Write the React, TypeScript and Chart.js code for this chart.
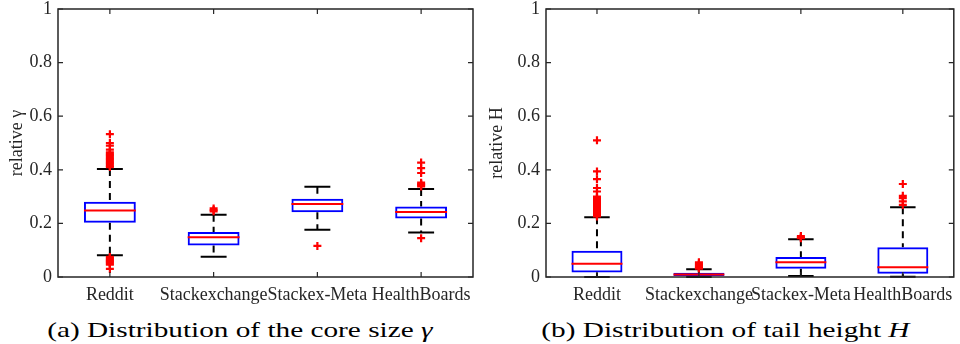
import React, { useEffect, useRef } from "react";
import { Chart, registerables } from "chart.js";

Chart.register(...registerables);

const categories = ["Reddit", "Stackexchange", "Stackex-Meta", "HealthBoards"];
const yTickLabels = ["0", "0.2", "0.4", "0.6", "0.8", "1"];

// (a) core size gamma
const coreLowerWhisker = [0.081, 0.076, 0.176, 0.166];
const coreQ1 = [0.202, 0.118, 0.242, 0.218];
const coreMedian = [0.248, 0.148, 0.272, 0.243];
const coreQ3 = [0.281, 0.168, 0.292, 0.263];
const coreUpperWhisker = [0.403, 0.232, 0.337, 0.328];
const coreOutliersReddit = [0.533, 0.5, 0.49, 0.475, 0.465, 0.46, 0.455, 0.45, 0.445, 0.44, 0.435, 0.43, 0.425, 0.42, 0.415, 0.41, 0.075, 0.07, 0.066, 0.062, 0.058, 0.055, 0.05, 0.046, 0.03];
const coreOutliersStackexchange = [0.245, 0.25, 0.256];
const coreOutliersMeta = [0.116];
const coreOutliersHealth = [0.427, 0.406, 0.388, 0.352, 0.347, 0.343, 0.338, 0.145];

// (b) tail height H
const tailLowerWhisker = [0.0, 0.0, 0.004, 0.001];
const tailQ1 = [0.017, 0.004, 0.031, 0.012];
const tailMedian = [0.049, 0.009, 0.055, 0.036];
const tailQ3 = [0.098, 0.016, 0.075, 0.111];
const tailUpperWhisker = [0.223, 0.029, 0.141, 0.26];
const tailOutliersReddit = [0.51, 0.394, 0.365, 0.332, 0.319, 0.3, 0.295, 0.29, 0.285, 0.28, 0.275, 0.27, 0.265, 0.26, 0.255, 0.25, 0.245, 0.24, 0.235, 0.23, 0.226];
const tailOutliersStackexchange = [0.055, 0.05, 0.046, 0.042, 0.038, 0.034, 0.031];
const tailOutliersMeta = [0.153, 0.148, 0.145];
const tailOutliersHealth = [0.347, 0.303, 0.294, 0.282, 0.269];

const FONT = "'Liberation Serif', 'Times New Roman', serif";
const AXIS_COLOR = "#262626";

type Stats = {
  lower: number[];
  q1: number[];
  median: number[];
  q3: number[];
  upper: number[];
  outliers: number[][];
};

const boxPlugin = {
  id: "boxExtras",
  beforeDatasetsDraw(chart: any, _args: any, opts: any) {
    const st: Stats = opts.stats;
    if (!st) return;
    const { ctx } = chart;
    const x = chart.scales.x;
    const y = chart.scales.y;
    const meta = chart.getDatasetMeta(0);
    ctx.save();
    ctx.strokeStyle = "#000";
    ctx.lineWidth = 2;
    for (let i = 0; i < categories.length; i++) {
      const cx = x.getPixelForValue(i);
      const half = meta.data[i].width / 2;
      const capHalf = half / 2;
      ctx.setLineDash([7, 5]);
      ctx.beginPath();
      ctx.moveTo(cx, y.getPixelForValue(st.upper[i]));
      ctx.lineTo(cx, y.getPixelForValue(st.q3[i]));
      ctx.moveTo(cx, y.getPixelForValue(st.q1[i]));
      ctx.lineTo(cx, y.getPixelForValue(st.lower[i]));
      ctx.stroke();
      ctx.setLineDash([]);
      ctx.beginPath();
      const yu = y.getPixelForValue(st.upper[i]);
      const yl = y.getPixelForValue(st.lower[i]);
      ctx.moveTo(cx - capHalf, yu);
      ctx.lineTo(cx + capHalf, yu);
      ctx.moveTo(cx - capHalf, yl);
      ctx.lineTo(cx + capHalf, yl);
      ctx.stroke();
    }
    ctx.restore();
  },
  afterDatasetsDraw(chart: any, _args: any, opts: any) {
    const st: Stats = opts.stats;
    if (!st) return;
    const { ctx, chartArea } = chart;
    const x = chart.scales.x;
    const y = chart.scales.y;
    const meta = chart.getDatasetMeta(0);
    ctx.save();
    // medians
    ctx.strokeStyle = "#ff0000";
    ctx.lineWidth = 2;
    for (let i = 0; i < categories.length; i++) {
      const cx = x.getPixelForValue(i);
      const half = meta.data[i].width / 2;
      const ym = y.getPixelForValue(st.median[i]);
      ctx.beginPath();
      ctx.moveTo(cx - half, ym);
      ctx.lineTo(cx + half, ym);
      ctx.stroke();
    }
    // frame
    ctx.strokeStyle = AXIS_COLOR;
    ctx.lineWidth = 1.5;
    const { left, right, top, bottom } = chartArea;
    ctx.strokeRect(left, top, right - left, bottom - top);
    // inward ticks
    const tl = 5;
    ctx.lineWidth = 1.2;
    ctx.beginPath();
    y.ticks.forEach((t: any) => {
      const py = y.getPixelForValue(t.value);
      ctx.moveTo(left, py);
      ctx.lineTo(left + tl, py);
      ctx.moveTo(right, py);
      ctx.lineTo(right - tl, py);
    });
    for (let i = 0; i < categories.length; i++) {
      const px = x.getPixelForValue(i);
      ctx.moveTo(px, bottom);
      ctx.lineTo(px, bottom - tl);
      ctx.moveTo(px, top);
      ctx.lineTo(px, top + tl);
    }
    ctx.stroke();
    ctx.restore();
  },
};

type PanelProps = {
  left: number;
  yTitle: string;
  axisWidth: number;
  padRight: number;
  stats: Stats;
};

function BoxPanel({ left, yTitle, axisWidth, padRight, stats }: PanelProps) {
  const ref = useRef<HTMLCanvasElement | null>(null);
  useEffect(() => {
    if (!ref.current) return;
    const outlierPoints: { x: string; y: number }[] = [];
    stats.outliers.forEach((arr, i) => arr.forEach((v) => outlierPoints.push({ x: categories[i], y: v })));
    const chart = new Chart(ref.current, {
      type: "bar",
      data: {
        labels: categories,
        datasets: [
          {
            type: "bar",
            data: categories.map((_, i) => [stats.q1[i], stats.q3[i]]) as any,
            backgroundColor: "rgba(0,0,0,0)",
            borderColor: "#0000ff",
            borderWidth: 2,
            borderSkipped: false,
            barPercentage: 0.5,
            categoryPercentage: 1,
            order: 2,
          } as any,
          {
            type: "line",
            data: outlierPoints as any,
            showLine: false,
            pointStyle: "cross",
            pointRadius: 4,
            pointBorderWidth: 2.2,
            pointBorderColor: "#ff0000",
            borderColor: "#ff0000",
            order: 1,
          } as any,
        ],
      },
      options: {
        animation: false,
        responsive: false,
        layout: { padding: { top: 9, right: padRight, left: 0, bottom: 0 } },
        plugins: {
          legend: { display: false },
          tooltip: { enabled: false },
          boxExtras: { stats },
        } as any,
        scales: {
          x: {
            type: "category",
            offset: true,
            grid: { display: false, drawTicks: false },
            border: { display: false },
            ticks: {
              autoSkip: false,
              maxRotation: 0,
              minRotation: 0,
              padding: 7,
              color: AXIS_COLOR,
              font: { family: FONT, size: 18 },
            },
            afterFit: (s: any) => {
              s.height = 33;
              s.paddingLeft = 0;
              s.paddingRight = 0;
            },
          },
          y: {
            min: 0,
            max: 1,
            grid: { display: false, drawTicks: false },
            border: { display: false },
            ticks: {
              stepSize: 0.2,
              padding: 6,
              color: AXIS_COLOR,
              font: { family: FONT, size: 18 },
              callback: (_v: any, idx: number) => yTickLabels[idx],
            },
            title: {
              display: true,
              text: yTitle,
              color: AXIS_COLOR,
              font: { family: FONT, size: 18 },
              padding: { top: 6, bottom: 0 },
            },
            afterFit: (s: any) => {
              s.width = axisWidth;
              s.paddingTop = 0;
              s.paddingBottom = 0;
            },
          },
        },
      } as any,
      plugins: [boxPlugin as any],
    });
    return () => chart.destroy();
  }, []);
  return (
    <canvas
      ref={ref}
      width={480}
      height={310}
      style={{ position: "absolute", left, top: 0, width: 480, height: 310 }}
    />
  );
}

const captionStyle: React.CSSProperties = {
  position: "absolute",
  top: 319,
  width: 480,
  textAlign: "center",
  fontFamily: FONT,
  fontSize: 22,
  lineHeight: "22px",
  color: "#000",
  whiteSpace: "nowrap",
};

export default function App() {
  const coreStats: Stats = {
    lower: coreLowerWhisker,
    q1: coreQ1,
    median: coreMedian,
    q3: coreQ3,
    upper: coreUpperWhisker,
    outliers: [coreOutliersReddit, coreOutliersStackexchange, coreOutliersMeta, coreOutliersHealth],
  };
  const tailStats: Stats = {
    lower: tailLowerWhisker,
    q1: tailQ1,
    median: tailMedian,
    q3: tailQ3,
    upper: tailUpperWhisker,
    outliers: [tailOutliersReddit, tailOutliersStackexchange, tailOutliersMeta, tailOutliersHealth],
  };
  return (
    <div style={{ position: "absolute", left: 0, top: 0, width: 960, height: 344, background: "#fff", overflow: "hidden" }}>
      <BoxPanel left={0} yTitle="relative γ" axisWidth={58} padRight={7} stats={coreStats} />
      <BoxPanel left={480} yTitle="relative H" axisWidth={66} padRight={1} stats={tailStats} />
      <div style={{ ...captionStyle, left: 0 }}>
        <span style={{ display: "inline-block", transform: "scaleX(1.33)" }}>
          (a) Distribution of the core size <i>γ</i>
        </span>
      </div>
      <div style={{ ...captionStyle, left: 485 }}>
        <span style={{ display: "inline-block", transform: "scaleX(1.33)" }}>
          (b) Distribution of tail height <i>H</i>
        </span>
      </div>
    </div>
  );
}
